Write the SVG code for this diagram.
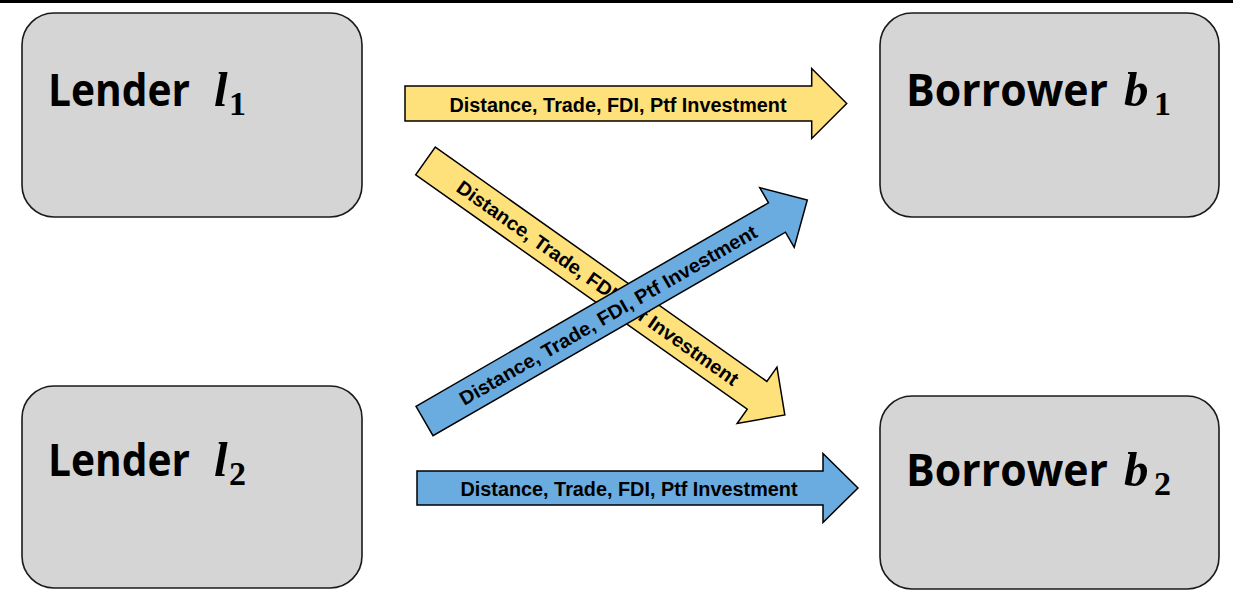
<svg xmlns="http://www.w3.org/2000/svg" width="1233" height="600" viewBox="0 0 1233 600">
<style>
.box{fill:#D4D5D4;stroke:#1a1a1a;stroke-width:1.6}
.lbl{font-family:"Open Sans","Noto Sans",sans-serif;font-weight:bold;font-size:45px;fill:#000}
.mi{font-family:"Liberation Serif","DejaVu Serif",serif;font-style:italic;font-weight:bold;font-size:49px;fill:#000}
.sub{font-family:"Liberation Serif","DejaVu Serif",serif;font-weight:bold;font-size:34px;fill:#000}
.arrY{fill:#FFE17C;stroke:#000;stroke-width:1.5}
.arrB{fill:#6AABE0;stroke:#000;stroke-width:1.5}
.at{font-family:"Liberation Sans",Arial,sans-serif;font-weight:bold;font-size:19.5px;fill:#000;text-anchor:middle}
</style>
<rect x="0" y="0" width="1233" height="3" fill="#000"/>
<g id="lender1">
<rect class="box" x="22" y="13" width="340" height="204" rx="32"/>
<text class="lbl" x="48" y="106" textLength="142" lengthAdjust="spacingAndGlyphs">Lender</text>
<text class="mi" x="214" y="106">l</text>
<text class="sub" x="229" y="115">1</text>
</g>
<g id="lender2">
<rect class="box" x="22" y="386" width="340" height="202" rx="32"/>
<text class="lbl" x="48" y="476" textLength="142" lengthAdjust="spacingAndGlyphs">Lender</text>
<text class="mi" x="214" y="476">l</text>
<text class="sub" x="229" y="485">2</text>
</g>
<g id="borrower1">
<rect class="box" x="880" y="13" width="339" height="204" rx="32"/>
<text class="lbl" x="906" y="106" textLength="202" lengthAdjust="spacingAndGlyphs">Borrower</text>
<text class="mi" x="1124" y="106">b</text>
<text class="sub" x="1154" y="115">1</text>
</g>
<g id="borrower2">
<rect class="box" x="880" y="396" width="339" height="193" rx="32"/>
<text class="lbl" x="906" y="486" textLength="202" lengthAdjust="spacingAndGlyphs">Borrower</text>
<text class="mi" x="1124" y="486">b</text>
<text class="sub" x="1154" y="495">2</text>
</g>
<g id="connectors">
<g transform="translate(405,103.5)">
<path class="arrY" d="M0,-17.5 L406.7,-17.5 L406.7,-35 L441.7,0 L406.7,35 L406.7,17.5 L0,17.5 Z"/>
<text class="at" x="213" y="8.5" textLength="337" lengthAdjust="spacingAndGlyphs">Distance, Trade, FDI, Ptf Investment</text>
</g>
<g transform="translate(417,488)">
<path class="arrB" d="M0,-17 L406,-17 L406,-34.5 L441,0 L406,34.5 L406,17 L0,17 Z"/>
<text class="at" x="212" y="8" textLength="337" lengthAdjust="spacingAndGlyphs">Distance, Trade, FDI, Ptf Investment</text>
</g>
<g transform="translate(425.5,161) rotate(35.25)">
<path class="arrY" d="M0,-17 L406,-17 L406,-34.5 L440,0 L406,34.5 L406,17 L0,17 Z"/>
<text class="at" x="211" y="7" textLength="340" lengthAdjust="spacingAndGlyphs">Distance, Trade, FDI, Ptf Investment</text>
</g>
<g transform="translate(424.5,421) rotate(-30)">
<path class="arrB" d="M0,-17 L407,-17 L407,-34.5 L442,0 L407,34.5 L407,17 L0,17 Z"/>
<text class="at" x="212" y="7" textLength="340" lengthAdjust="spacingAndGlyphs">Distance, Trade, FDI, Ptf Investment</text>
</g>
</g>
</svg>
